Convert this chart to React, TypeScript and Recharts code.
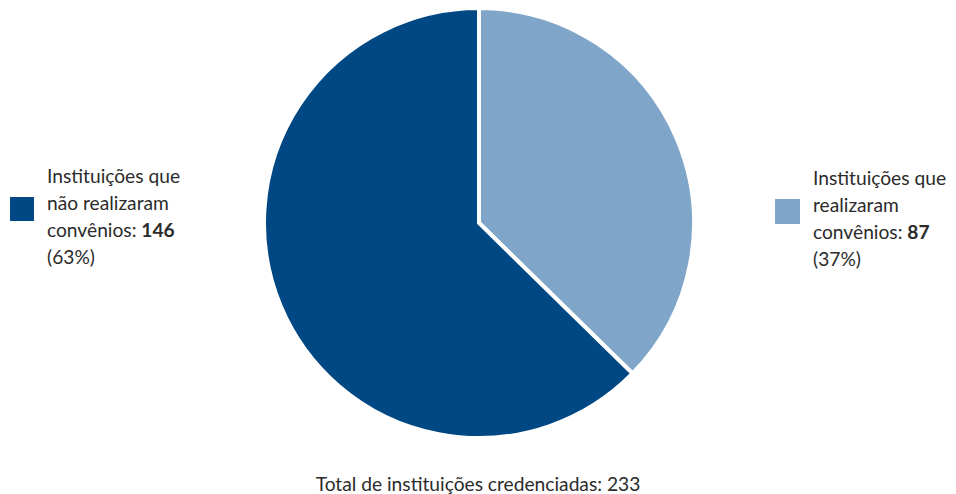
import React from "react";
import { PieChart, Pie, Cell } from "recharts";

const categories = ["Instituições que realizaram convênios", "Instituições que não realizaram convênios"];
const values = [87, 146];
const percents = ["37%", "63%"];
const colors = ["#7fa6c8", "#004884"];
const total = 233;

const data = categories.map((name, i) => ({ name, value: values[i] }));

const font = "Lato, sans-serif";
const textColor = "#2b2b2b";

export default function App() {
  return (
    <div style={{ position: "absolute", left: 0, top: 0, width: 956, height: 494, background: "#fff", fontFamily: font }}>
      <PieChart width={956} height={494} margin={{ top: 0, right: 0, bottom: 0, left: 0 }}>
        <Pie
          data={data}
          dataKey="value"
          cx={479}
          cy={223}
          outerRadius={215}
          startAngle={90}
          endAngle={-270}
          stroke="#ffffff"
          strokeWidth={4}
          isAnimationActive={false}
        >
          {data.map((d, i) => (
            <Cell key={i} fill={colors[i]} />
          ))}
        </Pie>
      </PieChart>
      {/* left legend */}
      <div style={{ position: "absolute", left: 10, top: 197, width: 24, height: 24, background: colors[1] }} />
      <div style={{ position: "absolute", left: 47, top: 162, fontSize: 19.2, lineHeight: "27px", color: textColor }}>
        Instituições que<br />não realizaram<br />convênios: <b>{values[1]}</b><br />({percents[1]})
      </div>
      {/* right legend */}
      <div style={{ position: "absolute", left: 775, top: 199, width: 25, height: 25, background: colors[0] }} />
      <div style={{ position: "absolute", left: 813, top: 164, fontSize: 19.2, lineHeight: "27px", color: textColor }}>
        Instituições que<br />realizaram<br />convênios: <b>{values[0]}</b><br />({percents[0]})
      </div>
      <div style={{ position: "absolute", left: 0, width: 956, top: 472, textAlign: "center", fontSize: 19.2, lineHeight: "24px", color: textColor }}>
        Total de instituições credenciadas: {total}
      </div>
    </div>
  );
}
